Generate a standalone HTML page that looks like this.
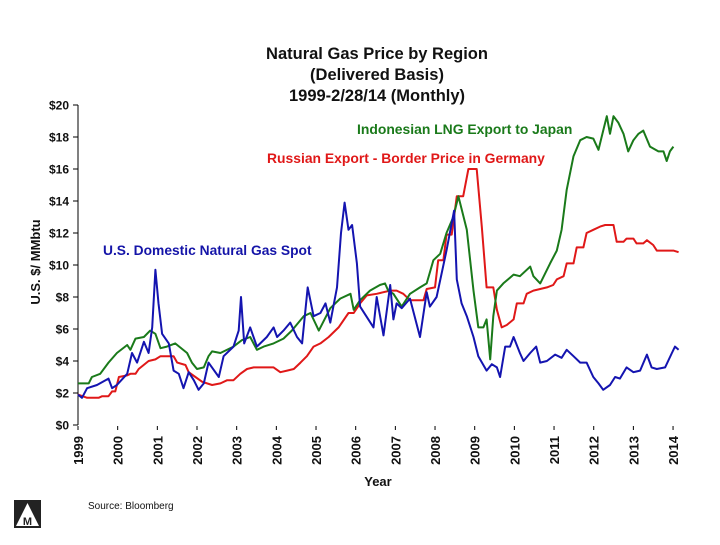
<!DOCTYPE html>
<html><head><meta charset="utf-8"><style>
body{margin:0;background:#fff;}
svg text{font-family:"Liberation Sans",Arial,sans-serif;}
</style></head><body>
<svg width="720" height="540" viewBox="0 0 720 540">
<g id="title" font-weight="bold" font-size="16.5" text-anchor="middle" fill="#111">
<text x="377" y="59">Natural Gas Price by Region</text>
<text x="377" y="80">(Delivered Basis)</text>
<text x="377" y="101">1999-2/28/14 (Monthly)</text>
</g>
<text transform="translate(40,262) rotate(-90)" text-anchor="middle" font-weight="bold" font-size="13" fill="#111">U.S. $/ MMbtu</text>
<text x="378" y="486" text-anchor="middle" font-weight="bold" font-size="13" fill="#111">Year</text>
<text x="357" y="134" font-weight="bold" font-size="13.9" fill="#1a7a1a">Indonesian LNG Export to Japan</text>
<text x="267" y="163" font-weight="bold" font-size="13.9" fill="#e01818">Russian Export - Border Price in Germany</text>
<text x="103" y="255" font-weight="bold" font-size="13.8" fill="#1414a8">U.S. Domestic Natural Gas Spot</text>
<text x="88" y="509" font-size="10" fill="#111">Source: Bloomberg</text>
<g>
<rect x="14" y="500" width="27" height="28" fill="#222"/>
<polygon points="27.5,503 39,526 16,526" fill="#fff"/>
<text x="27.5" y="525" text-anchor="middle" font-weight="bold" font-size="11" fill="#222">M</text>
</g>
<g id="axes"></g>
<g id="series"></g>
</svg>
<script>
const yTicks=[0,2,4,6,8,10,12,14,16,18,20];
const yTickLabels=["$0","$2","$4","$6","$8","$10","$12","$14","$16","$18","$20"];
const xYears=[1999,2000,2001,2002,2003,2004,2005,2006,2007,2008,2009,2010,2011,2012,2013,2014];
const usDates=[1999.00,1999.10,1999.23,1999.48,1999.77,1999.86,1999.98,2000.24,2000.36,2000.49,2000.66,2000.78,2000.87,2000.95,2001.03,2001.12,2001.29,2001.41,2001.54,2001.66,2001.79,2001.92,2002.04,2002.17,2002.29,2002.55,2002.67,2002.92,2003.05,2003.11,2003.19,2003.34,2003.51,2003.76,2003.93,2004.02,2004.18,2004.35,2004.52,2004.65,2004.79,2004.94,2005.11,2005.24,2005.36,2005.53,2005.63,2005.72,2005.82,2005.91,2006.03,2006.11,2006.45,2006.53,2006.70,2006.87,2006.95,2007.03,2007.16,2007.37,2007.62,2007.79,2007.87,2008.04,2008.29,2008.48,2008.55,2008.67,2008.80,2008.97,2009.09,2009.30,2009.43,2009.56,2009.64,2009.77,2009.89,2009.98,2010.14,2010.23,2010.40,2010.55,2010.65,2010.82,2011.03,2011.19,2011.32,2011.49,2011.66,2011.82,2011.99,2012.12,2012.24,2012.41,2012.54,2012.66,2012.83,2013.00,2013.17,2013.34,2013.46,2013.59,2013.80,2013.97,2014.05,2014.14];
const usValues=[1.9,1.7,2.3,2.5,2.9,2.3,2.5,3.2,4.5,3.9,5.2,4.5,6.1,9.7,7.6,5.7,5.1,3.4,3.2,2.3,3.3,2.8,2.2,2.6,3.9,3.0,4.3,4.9,5.9,8.0,5.1,6.1,4.9,5.5,6.1,5.5,5.9,6.4,5.5,5.1,8.6,6.8,7.0,7.6,6.4,8.6,12.0,13.9,12.2,12.5,10.1,7.4,6.1,8.0,5.6,8.75,6.6,7.6,7.3,7.9,5.5,8.3,7.4,8.0,10.9,13.4,9.1,7.6,6.8,5.5,4.3,3.4,3.8,3.6,3.0,4.9,4.9,5.5,4.5,4.0,4.5,4.9,3.9,4.0,4.4,4.2,4.7,4.3,3.9,3.9,3.0,2.6,2.2,2.5,3.0,2.9,3.6,3.3,3.4,4.4,3.6,3.5,3.6,4.5,4.9,4.7];
const idDates=[1999.00,1999.27,1999.35,1999.56,1999.77,1999.98,2000.24,2000.32,2000.45,2000.66,2000.82,2000.95,2001.08,2001.24,2001.45,2001.75,2001.87,2002.00,2002.17,2002.29,2002.38,2002.59,2002.92,2003.13,2003.34,2003.51,2003.68,2003.93,2004.18,2004.39,2004.69,2004.86,2005.07,2005.36,2005.61,2005.87,2005.95,2006.11,2006.36,2006.61,2006.74,2006.82,2006.95,2007.16,2007.37,2007.62,2007.79,2007.96,2008.13,2008.29,2008.46,2008.59,2008.80,2008.97,2009.09,2009.22,2009.30,2009.39,2009.47,2009.56,2009.72,2009.98,2010.14,2010.40,2010.48,2010.65,2010.90,2011.07,2011.19,2011.32,2011.49,2011.66,2011.82,2011.99,2012.12,2012.24,2012.33,2012.41,2012.50,2012.62,2012.75,2012.87,2013.00,2013.13,2013.25,2013.42,2013.63,2013.76,2013.84,2013.92,2014.01];
const idValues=[2.6,2.6,3.0,3.2,3.9,4.5,5.0,4.7,5.4,5.5,5.9,5.7,4.8,4.9,5.1,4.5,3.9,3.5,3.6,4.3,4.6,4.5,4.9,5.3,5.5,4.7,4.9,5.1,5.4,5.9,6.8,7.0,5.9,7.3,7.9,8.2,7.2,7.8,8.4,8.75,8.85,8.4,8.2,7.4,8.2,8.6,8.85,10.3,10.7,12.0,13.0,14.3,12.2,8.4,6.1,6.1,6.6,4.1,6.8,8.4,8.85,9.4,9.3,9.9,9.3,8.85,10.1,10.9,12.2,14.7,16.8,17.8,18.0,17.9,17.2,18.4,19.3,18.2,19.3,18.9,18.2,17.1,17.8,18.2,18.4,17.4,17.1,17.1,16.5,17.1,17.4];
const ruDates=[1999.00,1999.23,1999.52,1999.61,1999.77,1999.86,1999.94,2000.03,2000.24,2000.32,2000.45,2000.53,2000.78,2000.95,2001.08,2001.41,2001.50,2001.71,2001.79,2001.96,2002.13,2002.38,2002.59,2002.76,2002.92,2003.09,2003.26,2003.43,2003.93,2004.10,2004.27,2004.44,2004.61,2004.77,2004.94,2005.11,2005.32,2005.57,2005.82,2005.95,2006.11,2006.28,2006.53,2006.87,2007.03,2007.20,2007.37,2007.71,2007.79,2008.00,2008.08,2008.21,2008.29,2008.42,2008.55,2008.71,2008.84,2009.05,2009.18,2009.30,2009.47,2009.56,2009.68,2009.81,2009.98,2010.06,2010.23,2010.31,2010.48,2010.65,2010.82,2010.98,2011.07,2011.24,2011.32,2011.49,2011.57,2011.74,2011.82,2011.99,2012.16,2012.29,2012.50,2012.58,2012.75,2012.83,2013.00,2013.08,2013.25,2013.34,2013.50,2013.59,2014.01,2014.14];
const ruValues=[1.9,1.7,1.7,1.8,1.8,2.1,2.1,3.0,3.1,3.2,3.2,3.5,4.0,4.1,4.3,4.3,3.9,3.75,3.3,3.0,2.7,2.5,2.6,2.8,2.8,3.2,3.5,3.6,3.6,3.3,3.4,3.5,3.9,4.3,4.9,5.1,5.5,6.1,7.0,7.0,7.6,8.1,8.2,8.4,8.4,8.2,7.8,7.8,8.5,8.6,10.3,10.3,11.9,11.9,14.3,14.3,16.0,16.0,12.4,8.6,8.6,7.2,6.1,6.25,6.6,7.6,7.6,8.2,8.4,8.5,8.6,8.75,9.1,9.3,10.1,10.1,11.1,11.1,12.0,12.2,12.4,12.5,12.5,11.45,11.45,11.65,11.65,11.35,11.35,11.55,11.25,10.9,10.9,10.8];

const NS='http://www.w3.org/2000/svg';
const X0=78,PX_YR=39.67,Y0=425,PX_V=16;
function xs(t){return X0+(t-1999)*PX_YR;}
function ys(v){return Y0-v*PX_V;}
const axes=document.getElementById('axes');
function mk(tag,attrs,parent){const e=document.createElementNS(NS,tag);for(const k in attrs)e.setAttribute(k,attrs[k]);parent.appendChild(e);return e;}
const yl=mk('line',{x1:X0,y1:ys(20),x2:X0,y2:ys(0),stroke:'#000','stroke-width':1},axes);


yTicks.forEach((v,i)=>{
 const tk=mk('line',{x1:X0-5,y1:ys(v),x2:X0,y2:ys(v),stroke:'#000'},axes);
 
 
 const t=mk('text',{x:X0-9,y:ys(v)+4.5,'text-anchor':'end','font-size':12,'font-weight':'bold',fill:'#111'},axes);
 t.textContent=yTickLabels[i];
 
 
});
xYears.forEach(yr=>{
 const x=xs(yr);
 const tk=mk('line',{x1:x,y1:Y0+1,x2:x,y2:Y0+5,stroke:'#000'},axes);
 
 
 const t=mk('text',{transform:'translate('+(x+5)+','+(Y0+11)+') rotate(-90)','text-anchor':'end','font-size':13,'font-weight':'bold',fill:'#111'},axes);
 t.textContent=String(yr);
 
 
});
const ser=document.getElementById('series');
function line(d,v,col,name){
 const pts=d.map((t,i)=>xs(t).toFixed(1)+','+ys(v[i]).toFixed(1)).join(' ');
 const p=mk('polyline',{points:pts,fill:'none',stroke:col,'stroke-width':2,'stroke-linejoin':'round'},ser);
 
 
}
line(ruDates,ruValues,'#e01818','russia-line');
line(idDates,idValues,'#1a7a1a','indonesia-line');
line(usDates,usValues,'#1414b0','us-line');
</script>
</body></html>
